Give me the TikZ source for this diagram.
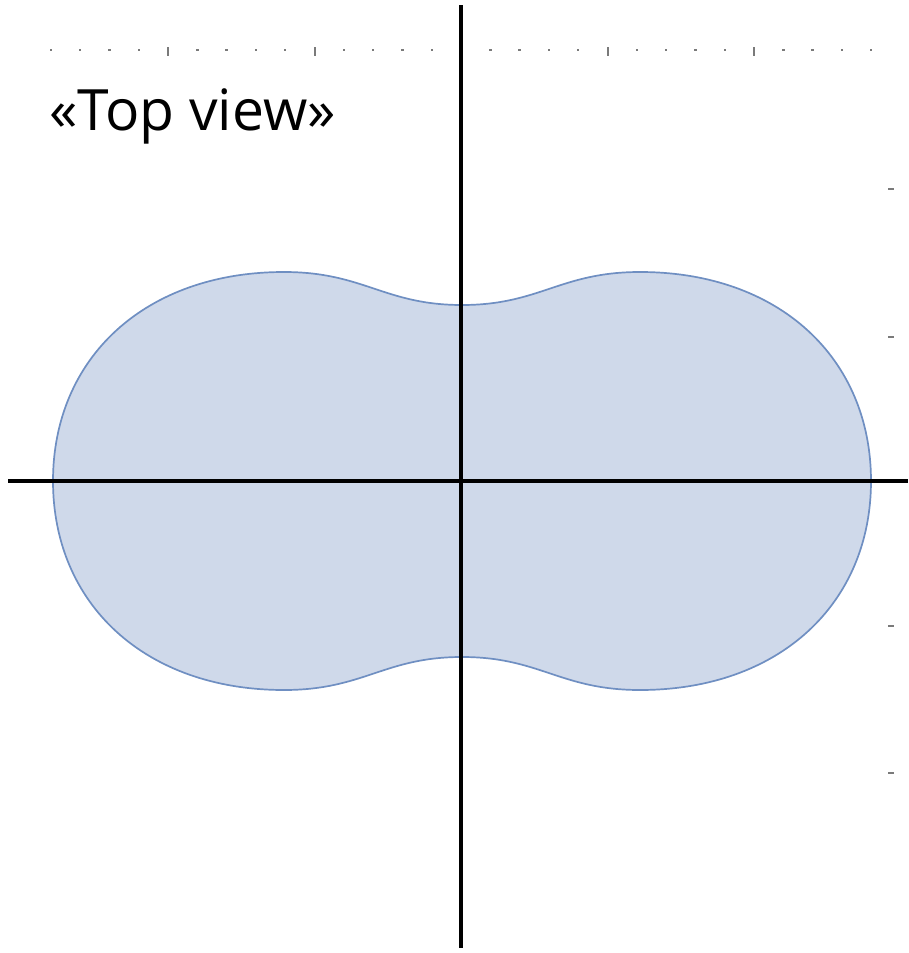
\documentclass[tikz,border=0pt]{standalone}
\usepackage{fontspec}
\setmainfont{Open Sans}
\definecolor{blobfill}{HTML}{CFD9EA}
\definecolor{blobline}{HTML}{6F8FC2}
\definecolor{tickgray}{HTML}{7A7A7A}
\begin{document}
\begin{tikzpicture}[x=1pt,y=-1pt,
  axis/.style={line width=3.2pt,black},
  dotmark/.style={fill=tickgray},
  tickmark/.style={fill=tickgray}]
\useasboundingbox (0,0) rectangle (908,953);
% blob
\draw[fill=blobfill,draw=blobline,line width=1.7pt]
  (462,305) .. controls (540,305) and (560,272) .. (640,272)
  .. controls (779,272) and (871,358) .. (871,481)
  .. controls (871,604) and (779,690) .. (640,690)
  .. controls (560,690) and (540,657) .. (462,657)
  .. controls (384,657) and (364,690) .. (284,690)
  .. controls (145,690) and (53,604) .. (53,481)
  .. controls (53,358) and (145,272) .. (284,272)
  .. controls (364,272) and (384,305) .. (462,305) -- cycle;
% top dotted ruler
\foreach \k in {-14,...,14}{
  \pgfmathtruncatemacro{\m}{mod(\k+20,5)}
  \ifnum\m=0
    \fill[tickmark] ({461+29.3*\k-1},47) rectangle ({461+29.3*\k+1},56);
  \else
    \fill[dotmark] ({461+29.3*\k-1.2},49) rectangle ({461+29.3*\k+1.2},51.4);
  \fi
}
% right ticks
\foreach \yy in {189,337,626,773}{
  \fill[tickmark] (888,\yy-1.2) rectangle (894,\yy+1.2);
}
% axes
\coordinate (vt) at (461,5);
\coordinate (vb) at (461,948);
\coordinate (hl) at (8,481);
\coordinate (hr) at (908,481);
\draw[axis] (vt) -- (vb);
\draw[axis] (hl) -- (hr);
% label
\node[anchor=base west,inner sep=0pt,font=\fontsize{57}{60}\selectfont] (title) at (49,130) {«Top view»};
\end{tikzpicture}
\end{document}
